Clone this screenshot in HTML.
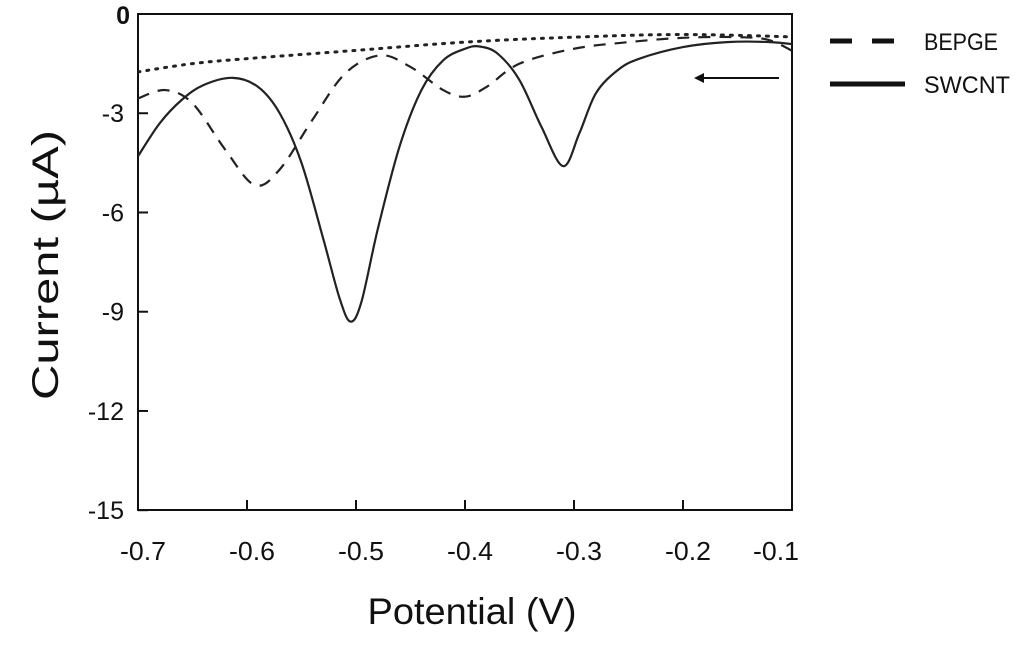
<!DOCTYPE html>
<html><head><meta charset="utf-8"><style>
html,body{margin:0;padding:0;background:#fff;}
svg{display:block;font-family:"Liberation Sans",sans-serif;}
</style></head><body>
<svg id="chart" width="1024" height="646" viewBox="0 0 1024 646" xmlns="http://www.w3.org/2000/svg">
<defs><clipPath id="plotclip"><rect x="138" y="14" width="654" height="496"/></clipPath></defs>
<rect x="138" y="14" width="654" height="496" fill="none" stroke="#111" stroke-width="2"/>
<g id="ticks"></g>
<g id="series" clip-path="url(#plotclip)"></g>
<text transform="translate(58,265) rotate(-90)" text-anchor="middle" font-size="37" textLength="270" lengthAdjust="spacingAndGlyphs" fill="#111">Current (µA)</text>
<text x="472" y="624" text-anchor="middle" font-size="37" textLength="209" lengthAdjust="spacingAndGlyphs" fill="#111">Potential (V)</text>
<g>
<line x1="779" y1="78" x2="702" y2="78" stroke="#111" stroke-width="2"/>
<polygon points="694,78 704,73 704,83" fill="#111"/>
</g>
<g>
<g>
<line x1="830" y1="41" x2="896" y2="41" stroke="#111" stroke-width="5" stroke-dasharray="22,20"/>
<text x="924" y="50" font-size="24" textLength="74" lengthAdjust="spacingAndGlyphs" fill="#111">BEPGE</text>
</g>
<g>
<line x1="830" y1="84" x2="905" y2="84" stroke="#111" stroke-width="5"/>
<text x="924" y="93" font-size="24" textLength="86" lengthAdjust="spacingAndGlyphs" fill="#111">SWCNT</text>
</g>
</g>
</svg>
<script>
const xTicks = [-0.7,-0.6,-0.5,-0.4,-0.3,-0.2,-0.1];
const xTickLabels = ["-0.7","-0.6","-0.5","-0.4","-0.3","-0.2","-0.1"];
const yTicks = [0,-3,-6,-9,-12,-15];
const yTickLabels = ["0","-3","-6","-9","-12","-15"];
const swcntX = [-0.7,-0.68,-0.66,-0.64,-0.613,-0.59,-0.57,-0.55,-0.53,-0.515,-0.505,-0.495,-0.48,-0.46,-0.44,-0.42,-0.4,-0.387,-0.37,-0.35,-0.33,-0.31,-0.295,-0.28,-0.26,-0.24,-0.2,-0.16,-0.12,-0.09];
const swcntY = [-4.3,-3.3,-2.6,-2.15,-1.93,-2.2,-3.0,-4.5,-6.8,-8.6,-9.3,-8.7,-6.5,-4.0,-2.3,-1.4,-1.05,-0.98,-1.2,-2.0,-3.4,-4.6,-3.6,-2.4,-1.7,-1.35,-1.0,-0.85,-0.85,-0.95];
const bepgeX = [-0.7,-0.675,-0.65,-0.62,-0.593,-0.57,-0.54,-0.51,-0.478,-0.45,-0.42,-0.4,-0.38,-0.35,-0.3,-0.25,-0.2,-0.15,-0.12,-0.09];
const bepgeY = [-2.55,-2.3,-2.7,-4.1,-5.17,-4.7,-3.2,-1.8,-1.25,-1.6,-2.3,-2.5,-2.2,-1.5,-1.05,-0.85,-0.72,-0.7,-0.8,-1.3];
const blankX = [-0.7,-0.65,-0.6,-0.5,-0.4,-0.3,-0.2,-0.09];
const blankY = [-1.75,-1.5,-1.35,-1.1,-0.85,-0.7,-0.62,-0.7];

const NS="http://www.w3.org/2000/svg";
function xs(v){return 138+(v+0.7)*1090;}
function ys(v){return 14-v*33.08;}
const tg=document.getElementById('ticks');
xTicks.forEach((t,i)=>{
  const l=document.createElementNS(NS,'line');
  l.setAttribute('x1',xs(t));l.setAttribute('x2',xs(t));l.setAttribute('y1',510);l.setAttribute('y2',i===0||i===xTicks.length-1?510:500);
  l.setAttribute('stroke','#111');l.setAttribute('stroke-width','2');
  
  
  tg.appendChild(l);
  const tx=document.createElementNS(NS,'text');
  tx.setAttribute('x',i===xTicks.length-1?xs(t)-16:xs(t)+5);tx.setAttribute('y',560);
  tx.setAttribute('text-anchor','middle');tx.setAttribute('font-size','26');tx.setAttribute('fill','#111');
  tx.setAttribute('textLength','46');tx.setAttribute('lengthAdjust','spacingAndGlyphs');
  tx.textContent=xTickLabels[i];
  
  
  tg.appendChild(tx);
});
yTicks.forEach((t,i)=>{
  const l=document.createElementNS(NS,'line');
  l.setAttribute('x1',138);l.setAttribute('x2',148);l.setAttribute('y1',ys(t));l.setAttribute('y2',ys(t));
  l.setAttribute('stroke','#111');l.setAttribute('stroke-width','2');
  
  
  tg.appendChild(l);
  const tx=document.createElementNS(NS,'text');
  tx.setAttribute('x',i===0?130:124);tx.setAttribute('y',ys(t)+(i===0?10:9));
  tx.setAttribute('text-anchor','end');tx.setAttribute('font-size','25');tx.setAttribute('fill','#111');
  if(i===0)tx.setAttribute('font-weight','bold');
  tx.textContent=yTickLabels[i];
  
  
  tg.appendChild(tx);
});
function smooth(X,Y){
  const p=X.map((x,i)=>[xs(x),ys(Y[i])]);
  let d='M'+p[0][0]+','+p[0][1];
  for(let i=0;i<p.length-1;i++){
    const p0=p[i-1]||p[i],p1=p[i],p2=p[i+1],p3=p[i+2]||p2;
    const c1=[p1[0]+(p2[0]-p0[0])/6,p1[1]+(p2[1]-p0[1])/6];
    const c2=[p2[0]-(p3[0]-p1[0])/6,p2[1]-(p3[1]-p1[1])/6];
    d+=' C'+c1[0]+','+c1[1]+' '+c2[0]+','+c2[1]+' '+p2[0]+','+p2[1];
  }
  return d;
}
const sg=document.getElementById('series');
function add(X,Y,name,dash,w){
  const pa=document.createElementNS(NS,'path');
  pa.setAttribute('d',smooth(X,Y));pa.setAttribute('fill','none');
  pa.setAttribute('stroke','#222');pa.setAttribute('stroke-width',w);
  if(dash)pa.setAttribute('stroke-dasharray',dash);
  if(dash==='2,7')pa.setAttribute('stroke-linecap','round');
  
  
  sg.appendChild(pa);
}
add(blankX,blankY,'blank-line','2,7',3);
add(bepgeX,bepgeY,'bepge-line','12,9',2.2);
add(swcntX,swcntY,'swcnt-line',null,2.2);
</script>
</body></html>
